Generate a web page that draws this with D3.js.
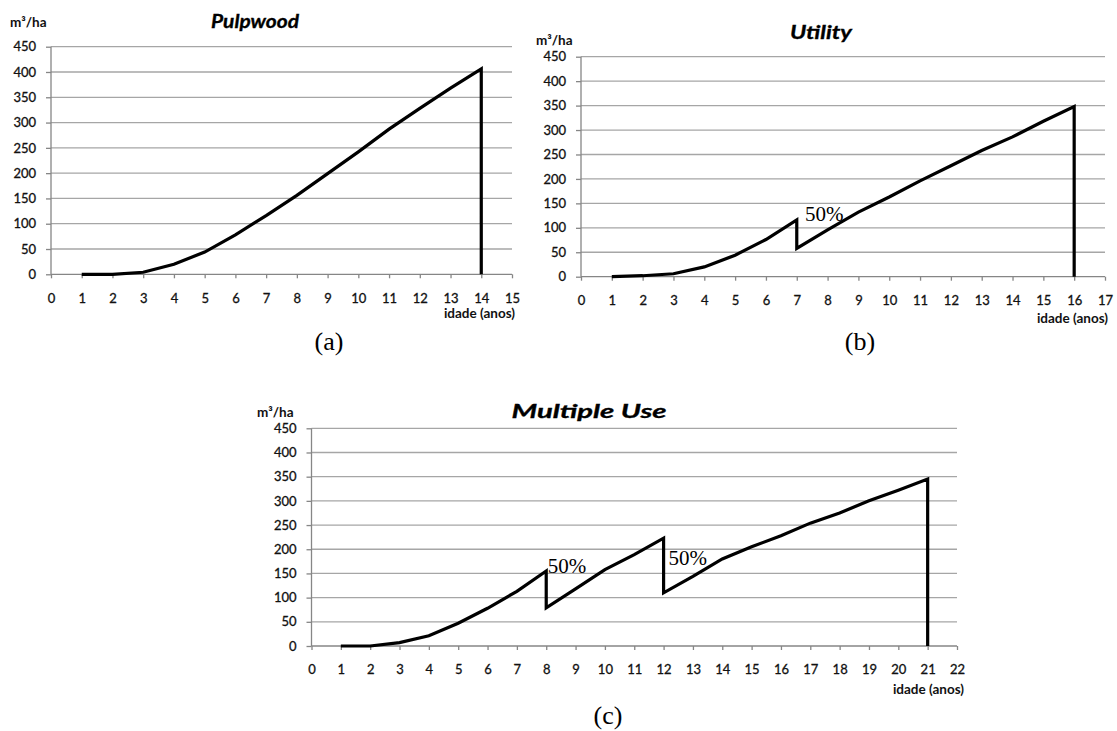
<!DOCTYPE html>
<html>
<head>
  <meta charset="UTF-8">
  <title>Volume por idade</title>
  <style>
    body { margin: 0; background: #fff; }
    svg { display: block; }
    .tick-label { font: 13px Lato, sans-serif; fill: #111; stroke: #111; stroke-width: 0.3px; }
    .unit-label { font: bold 13.5px Lato, sans-serif; fill: #111; }
    .title { font: italic bold 18px Lato, sans-serif; fill: #000; stroke: #000; stroke-width: 0.3px; }
    .panel-letter { font: 26px "Liberation Serif", "Times New Roman", serif; fill: #000; }
    .note { font: 21px "Liberation Serif", "Times New Roman", serif; fill: #000; }
  </style>
</head>
<body>
<svg></svg>
<script src="https://d3js.org/d3.v7.min.js"></script>
<script>

let width = 1117,
    height = 731;

// data
const pulpAge = [1, 2, 3, 4, 5, 6, 7, 8, 9, 10, 11, 12, 13, 14, 14];
const pulpVol = [0, 0, 4, 20, 44, 78, 116, 156, 199, 242, 287, 328, 368, 406, 0];

const utilAge = [1, 2, 3, 4, 5, 6, 7, 7, 8, 9, 10, 11, 12, 13, 14, 15, 16, 16];
const utilVol = [0, 2, 6, 20, 44, 76, 116, 58, 96, 132, 163, 196, 227, 258, 286, 318, 348, 0];

const multiAge = [1, 2, 3, 4, 5, 6, 7, 8, 8, 9, 10, 11, 12, 12, 13, 14, 15, 16, 17, 18, 19, 20, 21, 21];
const multiVol = [0, 0, 7, 21, 47, 78, 113, 155, 79, 118, 158, 189, 223, 110, 144, 180, 205, 228, 254, 275, 300, 322, 345, 0];

const yTicks = [0, 50, 100, 150, 200, 250, 300, 350, 400, 450];
const titles = ["Pulpwood", "Utility", "Multiple Use"];
const letters = ["(a)", "(b)", "(c)"];
const yUnit = "m³/ha";
const xUnit = "idade (anos)";

// 50% thinning notes: [age, volume]
const utilNotes = [[7.27, 113]];
const multiNotes = [[8.05, 151], [12.17, 168]];

let svg = d3.select("svg")
    .attr("width", width)
    .attr("height", height);

// panel layout (pixels)
let panels = [
    { x0: 51, x1: 512, top: 46.7, bottom: 274.3, xMax: 15,
      age: pulpAge, vol: pulpVol, notes: [],
      titleX: 255, titleY: 21, titleW: 88, unitX: 10, unitY: 22,
      axisTitleX: 515, axisTitleY: 313, letterX: 329, letterY: 341 },
    { x0: 581, x1: 1105, top: 56.7, bottom: 276.7, xMax: 17,
      age: utilAge, vol: utilVol, notes: utilNotes,
      titleX: 821, titleY: 31.5, titleW: 62, unitX: 536, unitY: 39.5,
      axisTitleX: 1108, axisTitleY: 318, letterX: 860, letterY: 341 },
    { x0: 311.5, x1: 957, top: 428.3, bottom: 646, xMax: 22,
      age: multiAge, vol: multiVol, notes: multiNotes,
      titleX: 589, titleY: 410.5, titleW: 155, unitX: 257, unitY: 412,
      axisTitleX: 964, axisTitleY: 689, letterX: 608, letterY: 715 }
];

panels.forEach((p, i) => {
    let g = svg.append("g");

    let x = d3.scaleLinear().domain([0, p.xMax]).range([p.x0, p.x1]);
    let y = d3.scaleLinear().domain([0, 450]).range([p.bottom, p.top]);

    // horizontal gridlines
    g.append("g")
        .selectAll("line")
        .data(yTicks.filter(d => d > 0))
        .enter()
        .append("line")
        .attr("x1", p.x0)
        .attr("x2", p.x1)
        .attr("y1", d => y(d))
        .attr("y2", d => y(d))
        .attr("stroke", "#a6a6a6")
        .attr("stroke-width", 1.3);

    // y axis
    let yAxis = g.append("g")
        .attr("transform", "translate(" + p.x0 + ",0)")
        .call(d3.axisLeft(y).tickValues(yTicks).tickSize(5).tickPadding(10));

    // x axis
    let xAxis = g.append("g")
        .attr("transform", "translate(0," + p.bottom + ")")
        .call(d3.axisBottom(x).ticks(p.xMax).tickSize(4).tickPadding(15));

    [yAxis, xAxis].forEach(a => {
        a.select(".domain").attr("stroke", "#868686").attr("stroke-width", 1.3);
        a.selectAll(".tick line").attr("stroke", "#868686").attr("stroke-width", 1.3);
        a.selectAll(".tick text")
            .attr("class", "tick-label")
            .attr("fill", null);
    });
    yAxis.select(".domain").attr("d", "M0," + p.top + "V" + p.bottom);
    xAxis.select(".domain").attr("d", "M" + p.x0 + ",0H" + p.x1);

    // volume line
    let pts = p.age.map((a, k) => [a, p.vol[k]]);
    g.append("path")
        .datum(pts)
        .attr("fill", "none")
        .attr("stroke", "#000")
        .attr("stroke-width", 3.2)
        .attr("d", d3.line().x(d => x(d[0])).y(d => y(d[1])));

    // notes
    g.selectAll("text.note")
        .data(p.notes)
        .enter()
        .append("text")
        .attr("class", "note")
        .attr("x", d => x(d[0]))
        .attr("y", d => y(d[1]))
        .text("50%");

    // titles and labels
    g.append("text")
        .attr("class", "title")
        .attr("x", p.titleX)
        .attr("y", p.titleY)
        .attr("text-anchor", "middle")
        .attr("dominant-baseline", "central")
        .attr("textLength", p.titleW)
        .attr("lengthAdjust", "spacingAndGlyphs")
        .text(titles[i]);

    g.append("text")
        .attr("class", "unit-label")
        .attr("x", p.unitX)
        .attr("y", p.unitY)
        .attr("dominant-baseline", "central")
        .text(yUnit);

    g.append("text")
        .attr("class", "unit-label")
        .attr("x", p.axisTitleX)
        .attr("y", p.axisTitleY)
        .attr("text-anchor", "end")
        .attr("dominant-baseline", "central")
        .text(xUnit);

    g.append("text")
        .attr("class", "panel-letter")
        .attr("x", p.letterX)
        .attr("y", p.letterY)
        .attr("text-anchor", "middle")
        .attr("dominant-baseline", "central")
        .text(letters[i]);
});

</script>
</body>
</html>
